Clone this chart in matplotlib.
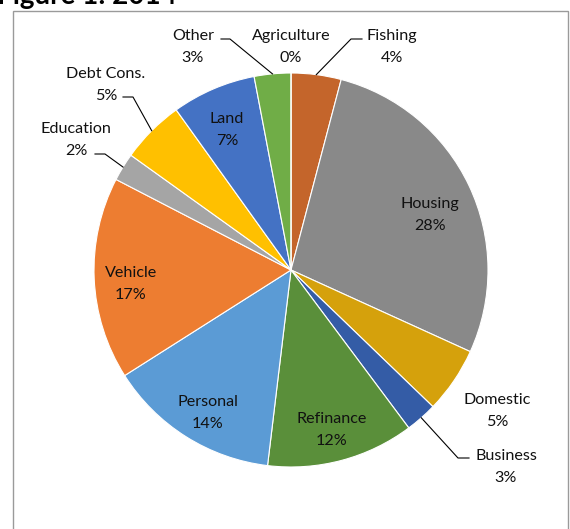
import numpy as np
import matplotlib
matplotlib.use("Agg")
import matplotlib.pyplot as plt
from matplotlib.patches import Rectangle

plt.rcParams['font.family'] = ['Lato', 'DejaVu Sans']

# loan purpose shares (%), clockwise from 12 o'clock
categories = ["Fishing", "Housing", "Domestic", "Business", "Refinance", "Personal",
              "Vehicle", "Education", "Debt Cons.", "Land", "Other", "Agriculture"]
shares = [4.1, 27.7, 5.4, 2.6, 12.1, 14.1, 16.6, 2.3, 5.2, 6.9, 3.0, 0.0]
colors = ["#C4652B", "#898989", "#D5A10C", "#345CA6", "#5A8F3A", "#5B9BD5",
          "#ED7D31", "#A5A5A5", "#FFC000", "#4472C4", "#70AD47", "#264478"]
title = "Figure 1: 2014"

W, H = 570, 529
cx, cy, R = 291, 270, 197

# label layout in pixels (top-left origin): name position, and optional leader elbow
label_pos = {
    "Fishing": (392, 36), "Housing": (430, 204), "Domestic": (497, 400),
    "Business": (506, 456), "Refinance": (332, 419), "Personal": (208, 402),
    "Vehicle": (131, 273), "Education": (76, 129), "Debt Cons.": (106, 74),
    "Land": (227, 119), "Other": (193, 36), "Agriculture": (291, 36),
}
leaders = {
    "Other": (221, 230, 39),
    "Fishing": (362, 351, 39),
    "Debt Cons.": (123, 133, 97),
    "Education": (95, 105, 154),
    "Business": (469, 458, 458),
}


def py(y):
    return H - y


fig = plt.figure(figsize=(W / 100, H / 100), dpi=100)
ax = fig.add_axes([0, 0, 1, 1])

# chart frame
ax.add_patch(Rectangle((13, -10), 555, py(11) + 10, fill=False,
                       edgecolor='#9a9a9a', linewidth=1.0))

wedges, _ = ax.pie(shares, colors=colors, startangle=90, counterclock=False,
                   center=(cx, py(cy)), radius=R, frame=True,
                   wedgeprops=dict(edgecolor='white', linewidth=0.8))
ax.set_xlim(0, W)
ax.set_ylim(0, H)
ax.set_aspect('equal')
ax.axis('off')

txt_kw = dict(ha='center', va='center', fontsize=11.6, color='#111111')
for name, val, w in zip(categories, shares, wedges):
    x, y = label_pos[name]
    ax.text(x, py(y), name, **txt_kw)
    ax.text(x, py(y + 22), f"{val:.0f}%", **txt_kw)
    if name in leaders:
        x0, x1, ly = leaders[name]
        mid = np.deg2rad((w.theta1 + w.theta2) / 2)
        ex = cx + R * np.cos(mid)
        ey = py(cy) + R * np.sin(mid)
        ax.plot([x0, x1, ex], [py(ly), py(ly), ey], color='black', linewidth=0.8)

fig.text(-3 / W, 1 - 4 / H, title, fontsize=20, fontweight='bold',
         ha='left', va='baseline')

fig.savefig("out.png", dpi=100)
